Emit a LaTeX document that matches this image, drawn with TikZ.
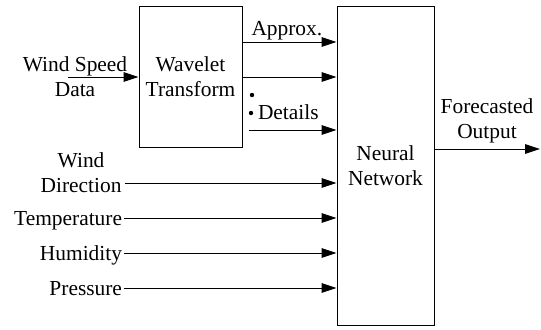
\documentclass[tikz,border=0pt]{standalone}
\usepackage{fontspec}
\setmainfont{Liberation Serif}
\usetikzlibrary{arrows.meta,positioning,calc}

\begin{document}
\begin{tikzpicture}[x=0.5pt,y=-0.5pt,
    line width=0.5pt,
    font=\fontsize{10.7}{12.5}\selectfont,
    block/.style={draw, line width=0.5pt, inner sep=0pt, align=center},
    lbl/.style={inner sep=0.75pt, text depth=0pt},
    flow/.style={-{Triangle[length=7.5pt,width=4.8pt]}}]
    \useasboundingbox (0,0) rectangle (541,329);

    % Wavelet block
    \node[block, minimum width=51.5pt, minimum height=70.5pt] (wt) at (190.5,76.5) {Wavelet\\Transform};

    % Neural network block
    \node[block, minimum width=48.5pt, minimum height=159.5pt] (nn) at (385.5,165.5) {Neural\\Network};

    % Wind speed input
    \node[lbl, align=center] (ws) at (75,77) {Wind Speed\\Data};
    \coordinate (wsin) at (68,77);
    \draw[flow] (wsin) -- (wt.west |- wsin);

    % Wavelet outputs
    \foreach \name/\y in {ap/42, lv/77} {
        \coordinate (\name) at (0,\y);
        \draw[flow] (wt.east |- \name) -- (nn.west |- \name);
    }
    \coordinate (dt) at (249,130);
    \draw[flow] (dt) -- (nn.west |- dt);
    \node[lbl, anchor=base west] (aplbl) at (249.5,35) {Approx.};
    \fill (252,95) circle (1.1pt);
    \fill (251,113) circle (1.1pt);
    \node[lbl, anchor=base west] (dtlbl) at (256,119) {Details};

    % Weather inputs
    \node[lbl, align=center, anchor=south east] (wd) at (123.5,194.5) {Wind\\Direction};
    \coordinate (wdin) at (125,183);
    \draw[flow] (wdin) -- (wdin -| nn.west);
    \foreach \name/\txt/\y in {temp/Temperature/218, hum/Humidity/253, pres/Pressure/288} {
        \node[lbl, anchor=east] (\name) at (124,\y) {\txt};
        \draw[flow] (\name.east) -- (\name.east -| nn.west);
    }

    % Output
    \coordinate (out) at (540,149);
    \draw[flow] (nn.east |- out) -- (out);
    \node[lbl, align=center, anchor=south] (outlbl) at (487,140) {Forecasted\\Output};
\end{tikzpicture}
\end{document}
